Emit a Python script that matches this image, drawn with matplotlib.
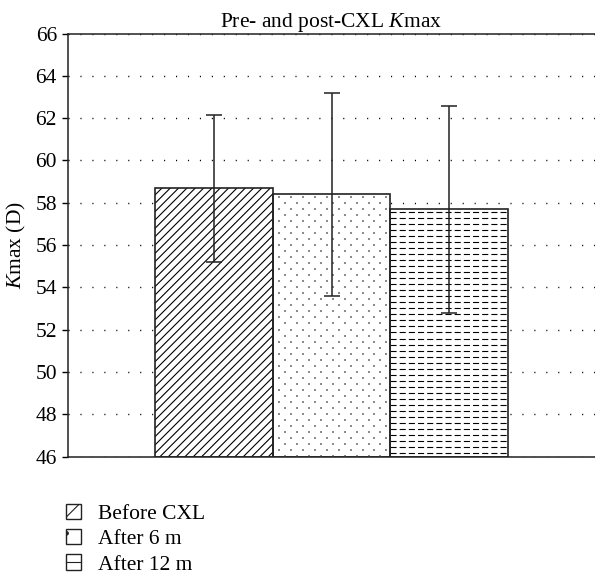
import numpy as np
import matplotlib
matplotlib.use("Agg")
import matplotlib.pyplot as plt
from matplotlib.patches import Patch

plt.rcParams['font.family'] = 'Liberation Serif'
plt.rcParams['mathtext.fontset'] = 'custom'
plt.rcParams['mathtext.rm'] = 'Liberation Serif'
plt.rcParams['mathtext.it'] = 'Liberation Serif:italic'
plt.rcParams['lines.scale_dashes'] = False
plt.rcParams['hatch.linewidth'] = 0.8

# data
groups = ["Before CXL", "After 6 m", "After 12 m"]
kmax_mean = [58.68, 58.41, 57.69]
kmax_sd = [3.48, 4.80, 4.90]
y_ticks = [46, 48, 50, 52, 54, 56, 58, 60, 62, 64, 66]

base = 46
x = np.arange(len(groups)) - 1.0
heights = np.array(kmax_mean) - base
fs = 15.5

fig = plt.figure(figsize=(5.95, 5.75), dpi=100)
ax = fig.add_axes([0.1143, 0.2057, 0.8857, 0.736])

ax.set_xlim(-2.243, 2.243)
ax.set_ylim(46, 66)
ax.set_yticks(y_ticks)
ax.yaxis.grid(True, linestyle=(0, (0.8, 7.8)), color='black', linewidth=1.0)
ax.set_axisbelow(True)

hatches = ['////', '', '']
for i in range(len(groups)):
    # white background so grid dots don't show through
    ax.bar(x[i], heights[i], bottom=base, width=1.0, color='white',
           edgecolor='none', zorder=2)
    ax.bar(x[i], heights[i], bottom=base, width=1.0, color='none',
           edgecolor='black', hatch=hatches[i], linewidth=0, zorder=3)
    ax.bar(x[i], heights[i], bottom=base, width=1.0, color='none',
           edgecolor='#222222', linewidth=1.2, zorder=5)

# dotted fill for the second bar (staggered lattice)
dx, dy = 0.102, 0.284
rows = np.arange(kmax_mean[1] - 0.15, base, -dy)
px, py = [], []
for r, yv in enumerate(rows):
    off = 0.05 if r % 2 == 0 else 0.05 + dx / 2
    cols = np.arange(x[1] - 0.5 + off, x[1] + 0.5 - 0.02, dx)
    px.extend(cols)
    py.extend([yv] * len(cols))
ax.scatter(px, py, s=1.2, marker='s', color='#8c8c8c', linewidths=0, zorder=4)

# dashed horizontal fill for the third bar
step = 0.285
ys = np.arange(base + step * 0.6, kmax_mean[2], step)
ax.hlines(ys, x[2] - 0.5, x[2] + 0.5, colors='black', linewidth=0.8,
          linestyles=[(0, (4.4, 2.2))], zorder=4)

ax.errorbar(x, kmax_mean, yerr=kmax_sd, fmt='none', ecolor='#222222',
            elinewidth=1.1, capsize=5.5, capthick=1.1, zorder=6)

ax.spines['right'].set_visible(False)
for side in ['top', 'bottom', 'left']:
    ax.spines[side].set_linewidth(1.1)
    ax.spines[side].set_color('#222222')

ax.set_xticks([])
ax.tick_params(axis='y', direction='out', length=4, width=1, labelsize=fs, pad=4)
ax.set_ylabel('$K$max (D)', fontsize=fs, labelpad=5)
ax.set_title('Pre- and post-CXL $K$max', fontsize=fs, pad=3)

handles = [Patch(facecolor='white', edgecolor='#222222', hatch='//'),
           Patch(facecolor='white', edgecolor='#222222', hatch='.'),
           Patch(facecolor='white', edgecolor='#222222', hatch='--')]
fig.legend(handles, groups, loc='upper left', bbox_to_anchor=(0.093, 0.143),
           frameon=False, fontsize=fs, handlelength=0.7, handleheight=0.7,
           handletextpad=0.8, labelspacing=0.25, borderpad=0)

plt.savefig("out.png", dpi=100)
plt.close()
